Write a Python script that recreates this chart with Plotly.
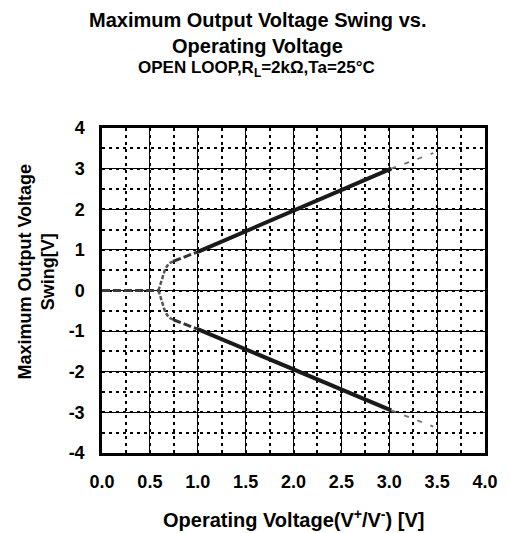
import plotly.graph_objects as go

# Operating voltage (V+/V-) and measured output swing, split into curve segments
zero_x = [0.0, 0.59]
zero_y = [0.0, 0.0]

knee_x = [0.59, 0.625, 0.66, 0.70, 0.745]
knee_hi = [0.0, 0.25, 0.53, 0.67, 0.72]
knee_lo = [0.0, -0.25, -0.53, -0.67, -0.72]

trans_x = [0.745, 1.0]
trans_hi = [0.72, 0.95]
trans_lo = [-0.72, -0.95]

main_x = [1.0, 3.02]
main_hi = [0.95, 3.0]
main_lo = [-0.95, -2.95]

ext_x = [3.02, 3.46]
ext_hi = [3.0, 3.38]
ext_lo = [-2.95, -3.35]

x_ticks = [0.0, 0.5, 1.0, 1.5, 2.0, 2.5, 3.0, 3.5, 4.0]
y_ticks = [-4, -3, -2, -1, 0, 1, 2, 3, 4]

FONT = "Arial, Liberation Sans, sans-serif"

fig = go.Figure()

def add(x, y, color, width, dash):
    fig.add_trace(go.Scatter(x=x, y=y, mode="lines", showlegend=False,
                             line=dict(color=color, width=width, dash=dash),
                             hoverinfo="skip"))

add(zero_x, zero_y, "#3c3c3c", 3, "8px,3px")
add(knee_x, knee_hi, "#555555", 2.5, "4px,2px")
add(knee_x, knee_lo, "#555555", 2.5, "4px,2px")
add(trans_x, trans_hi, "#333333", 3, "8px,3px")
add(trans_x, trans_lo, "#333333", 3, "8px,3px")
add(main_x, main_hi, "#1a1a1a", 4, "solid")
add(main_x, main_lo, "#1a1a1a", 4, "solid")
add(ext_x, ext_hi, "#707070", 1.8, "5px,9px")
add(ext_x, ext_lo, "#707070", 1.8, "5px,9px")

axis_common = dict(
    showline=True, mirror=True, linecolor="black", linewidth=2.5,
    showgrid=True, gridcolor="black", gridwidth=1,
    zeroline=False, ticks="",
    tickfont=dict(family=FONT, size=18, color="black", weight="bold"),
)

fig.update_xaxes(range=[0, 4], tickvals=x_ticks,
                 ticktext=[f"{v:.1f}" for v in x_ticks],
                 minor=dict(dtick=0.25, showgrid=True, gridcolor="black",
                            griddash="3px,4px", gridwidth=2),
                 ticklabelstandoff=11, **axis_common)
fig.update_yaxes(range=[-4, 4], tickvals=y_ticks,
                 ticktext=[str(v) for v in y_ticks],
                 minor=dict(dtick=0.5, showgrid=True, gridcolor="black",
                            griddash="3px,4px", gridwidth=2),
                 ticklabelstandoff=11, **axis_common)

LEFT, RIGHT, TOP, BOTTOM = 102, 494, 128, 453

annotations = [
    dict(text="<b>Maximum Output Voltage Swing vs.</b>", cx=261, y=20,
         size=20),
    dict(text="<b>Operating Voltage</b>", cx=261, y=46, size=20),
    dict(text="<b>OPEN LOOP,R<sub>L</sub>=2kΩ,Ta=25°C</b>", cx=260, y=69,
         size=17),
    dict(text="<b>Operating Voltage(V<sup>+</sup>/V<sup>-</sup>) [V]</b>",
         cx=298, y=518, size=20),
]

for a in annotations:
    fig.add_annotation(text=a["text"], xref="paper", yref="paper",
                       x=(a["cx"] - LEFT) / (RIGHT - LEFT),
                       y=(BOTTOM - a["y"]) / (BOTTOM - TOP),
                       xanchor="center", yanchor="middle", showarrow=False,
                       font=dict(family=FONT, size=a["size"], color="black"))

fig.add_annotation(text="<b>Maximum Output Voltage<br>Swing[V]</b>",
                   xref="paper", yref="paper",
                   x=(34 - LEFT) / (RIGHT - LEFT),
                   y=(BOTTOM - 272) / (BOTTOM - TOP),
                   xanchor="center", yanchor="middle", textangle=-90,
                   showarrow=False,
                   font=dict(family=FONT, size=18, color="black"))

fig.update_layout(
    width=510, height=533,
    margin=dict(l=LEFT, r=510 - RIGHT, t=TOP, b=533 - BOTTOM),
    paper_bgcolor="white", plot_bgcolor="white",
    font=dict(family=FONT, color="black"),
)

fig.write_html("out.html")
